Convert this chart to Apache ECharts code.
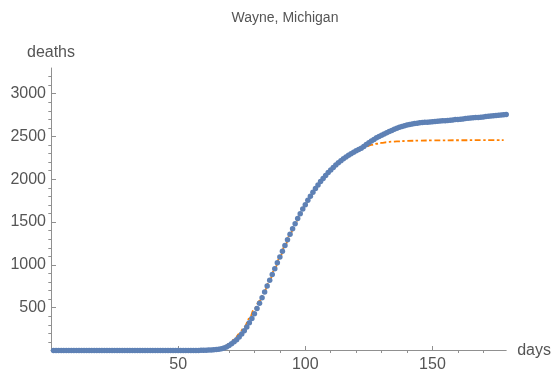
<!DOCTYPE html>
<html><head><meta charset="utf-8">
<script src="https://cdn.jsdelivr.net/npm/echarts@6/dist/echarts.min.js"></script>
<style>html,body{margin:0;padding:0;background:#fff}#c{width:554px;height:373px}</style>
</head><body><div id="c"></div>
<script>
const chartTitle = 'Wayne, Michigan';
const xName = 'days';
const yName = 'deaths';
const xMajorTicks = [50, 100, 150];
const xMinorTicks = [10, 20, 30, 40, 60, 70, 80, 90, 110, 120, 130, 140, 160, 170];
const yMajorTicks = [500, 1000, 1500, 2000, 2500, 3000];
const yMinorTicks = [100, 200, 300, 400, 600, 700, 800, 900, 1100, 1200, 1300, 1400, 1600, 1700, 1800, 1900,
  2100, 2200, 2300, 2400, 2600, 2700, 2800, 2900, 3100, 3200];
const firstDay = 1;
// observed cumulative deaths, one per day starting at day 1
const deaths = [
  0,0,0,0,0,0,0,0,0,0,
  0,0,0,0,0,0,0,0,0,0,
  0,0,0,0,0,0,0,0,0,0,
  0,0,0,0,0,0,0,0,0,0,
  0,0,0,0,0,0,0,0,0,0,
  0,0,0,0,0,0,0,1,2,2,
  3,5,7,9,12,16,21,30,42,58,
  78,101,127,158,193,232,275,323,375,430,
  490,552,617,684,752,820,888,956,1024,1092,
  1160,1227,1293,1358,1421,1482,1541,1598,1652,1704,
  1754,1802,1848,1892,1934,1973,2010,2045,2078,2109,
  2138,2166,2192,2216,2239,2260,2280,2299,2316,2332,
  2347,2363,2383,2405,2427,2447,2466,2484,2500,2515,
  2530,2544,2558,2571,2584,2596,2607,2617,2626,2634,
  2641,2647,2652,2656,2659,2662,2665,2667,2670,2672,
  2675,2677,2680,2683,2685,2688,2691,2694,2697,2699,
  2702,2705,2709,2712,2715,2718,2721,2723,2726,2729,
  2732,2735,2738,2742,2745,2748,2751,2754,2757
];
// fitted curve (dash-dot)
const fitDays = [0,20,40,50,54,58,60,62,64,66,68,70,72,74,76,78,80,82,84,86,88,90,92,94,96,98,100,
  102,104,106,108,110,112,114,116,118,120,122,124,126,128,130,132,134,136,140,145,150,160,170,178];
const fitDeaths = [0,0,0,1,2,4,6,9,14,22,40,78,127,193,275,375,490,580,700,825,956,1090,1225,1356,1480,1597,1703,
  1801,1891,1973,2045,2109,2166,2217,2262,2300,2333,2360,2383,2401,2415,2425,2433,2439,2443,2448,2452,2454,2456,2457,2458];

const font = 'Liberation Sans, Arial, sans-serif';
const axisColor = '#909090';
const labelColor = '#555555';

const chart = echarts.init(document.getElementById('c'), null, {renderer: 'canvas'});
const baseX = {type: 'value', min: 0, max: 179, splitLine: {show: false}};
const baseY = {type: 'value', min: 0, max: 3300, splitLine: {show: false}};
chart.setOption({
  animation: false,
  backgroundColor: '#fff',
  title: {text: chartTitle, left: 280, top: 6, textAlign: 'center',
    textStyle: {fontFamily: font, fontSize: 14, fontWeight: 'normal', color: labelColor}},
  grid: {left: 51, top: 68, right: 45, bottom: 22.5},
  xAxis: [
    Object.assign({}, baseX, {
      name: xName, nameLocation: 'end', nameGap: 11,
      nameTextStyle: {fontFamily: font, fontSize: 16, color: labelColor, verticalAlign: 'middle'},
      axisLine: {show: true, lineStyle: {color: axisColor, width: 1}},
      axisTick: {show: true, inside: true, length: 4.5, customValues: xMajorTicks, lineStyle: {color: axisColor}},
      axisLabel: {show: true, customValues: xMajorTicks, margin: 6, fontFamily: font, fontSize: 16, color: labelColor,
        formatter: v => String(v)}
    }),
    Object.assign({}, baseX, {
      axisLine: {show: false},
      axisTick: {show: true, inside: true, length: 2.5, customValues: xMinorTicks, lineStyle: {color: axisColor}},
      axisLabel: {show: false}
    })
  ],
  yAxis: [
    Object.assign({}, baseY, {
      name: yName, nameLocation: 'end', nameGap: 15,
      nameTextStyle: {fontFamily: font, fontSize: 16, color: labelColor, align: 'center', verticalAlign: 'middle'},
      axisLine: {show: true, lineStyle: {color: axisColor, width: 1}},
      axisTick: {show: true, inside: true, length: 5, customValues: yMajorTicks, lineStyle: {color: axisColor}},
      axisLabel: {show: true, customValues: yMajorTicks, margin: 5, fontFamily: font, fontSize: 16, color: labelColor,
        formatter: v => String(v)}
    }),
    Object.assign({}, baseY, {
      axisLine: {show: false},
      axisTick: {show: true, inside: true, length: 2.7, customValues: yMinorTicks, lineStyle: {color: axisColor}},
      axisLabel: {show: false}
    })
  ],
  series: [
    {
      type: 'line', xAxisIndex: 0, yAxisIndex: 0, z: 2,
      data: fitDays.map((d, i) => [d, fitDeaths[i]]),
      showSymbol: false, smooth: 0.4, smoothMonotone: 'x',
      lineStyle: {color: '#FF8000', width: 1.8, type: [6, 2.5, 2.5, 2.5]}
    },
    {
      type: 'scatter', xAxisIndex: 0, yAxisIndex: 0, z: 3,
      data: deaths.map((v, i) => [firstDay + i, v]),
      symbol: 'circle', symbolSize: 5.5,
      itemStyle: {color: '#5E81B5', opacity: 1}
    }
  ]
});
</script></body></html>
